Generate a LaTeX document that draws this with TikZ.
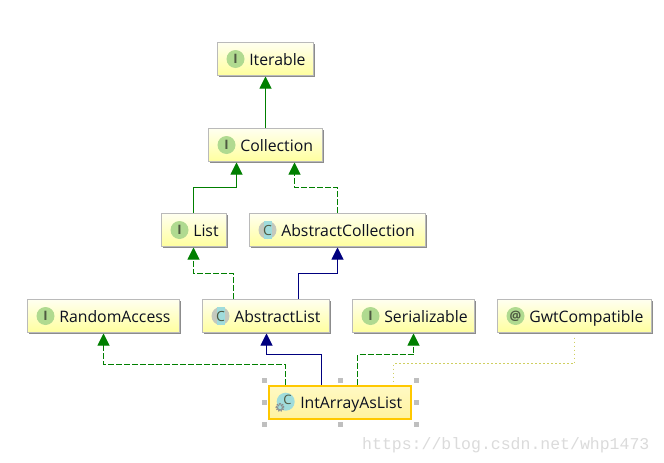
\documentclass[tikz,border=0pt]{standalone}
\usepackage{fontspec}
\setmainfont{Open Sans}
\setmonofont{Liberation Mono}
\usetikzlibrary{arrows.meta,shadows,calc}
\definecolor{gline}{HTML}{007F00}
\definecolor{nline}{HTML}{00007F}
\definecolor{dotline}{HTML}{CFCF60}
\definecolor{ink}{HTML}{0C1020}
\definecolor{ifill}{HTML}{B0DA90}
\definecolor{iink}{HTML}{4F5A42}
\definecolor{cgrey}{HTML}{C4C9BE}
\definecolor{ccyan}{HTML}{A0DCDC}
\definecolor{selfill}{HTML}{FFF9C4}
\definecolor{selfillb}{HTML}{FFF3A0}
\definecolor{selline}{HTML}{FFC800}
\tikzset{
  x=1pt,y=-1pt,
  umlbase/.style={anchor=north west,inner sep=0pt,outer sep=0pt,align=left,text=ink,
    font=\fontsize{15.8}{18}\selectfont,text height=15pt,text depth=3pt},
  umlbox/.style={umlbase,draw=black!27,line width=1pt,top color=yellow!6,bottom color=yellow!38,
    general shadow={shadow xshift=1pt,shadow yshift=-1pt,fill=black!45}},
  selbox/.style={umlbase,draw=selline,line width=2pt,top color=selfill,bottom color=selfillb},
  iconI/.style={circle,fill=ifill,minimum size=18pt,inner sep=0pt,text=iink,font=\rmfamily\bfseries\fontsize{13}{13}\selectfont},
  iconC/.style={circle,fill=cgrey,minimum size=18pt,inner sep=0pt},
  handle/.style={fill=black!25,minimum size=5pt,inner sep=0pt},
  gsolid/.style={draw=gline,line width=1pt,-{Triangle[width=12pt,length=12pt]},shorten <=1pt,shorten >=1pt},
  nsolid/.style={draw=nline,line width=1pt,-{Triangle[width=12pt,length=12pt]},shorten <=1pt,shorten >=1pt},
  gdash/.style={gsolid,dash pattern=on 6pt off 2pt},
  dotdep/.style={draw=dotline,line width=1pt,dash pattern=on 1.5pt off 2.5pt,shorten <=5pt,shorten >=1pt},
}
% name, x1, y1, width, icon letter, text
\newcommand\ibox[6]{%
  \node[umlbox,minimum width=#4pt,text width=#4pt,minimum height=33pt] (#1) at (#2,#3) {\hspace*{31.8pt}#6};
  \node[iconI] (#1i) at ($(#1.west)+(18,0)$) {#5};}
\newcommand\cbox[5]{%
  \node[umlbox,minimum width=#4pt,text width=#4pt,minimum height=33pt] (#1) at (#2,#3) {\hspace*{31.8pt}#5};
  \node[iconC] (#1i) at ($(#1.west)+(18,0)$) {};
  \fill[ccyan] ($(#1i.center)+(-4,-8.9)$) rectangle ($(#1i.center)+(4,8.9)$);
  \node[text=iink,font=\fontsize{14}{14}\selectfont,inner sep=0pt] at (#1i.center) {C};}
\begin{document}
\begin{tikzpicture}
\useasboundingbox (0,0) rectangle (664,463);
\fill[white] (0,0) rectangle (664,463);

\ibox{iter}{217.5}{42.5}{96}{I}{Iterable}
\ibox{coll}{208.5}{128.5}{114}{I}{Collection}
\ibox{list}{161.5}{213.5}{65}{I}{List}
\cbox{acoll}{249.5}{213.5}{176}{AbstractCollection}
\ibox{rand}{27.5}{299.5}{152}{I}{RandomAccess}
\cbox{alist}{202.5}{299.5}{127}{AbstractList}
\ibox{ser}{352.5}{299.5}{122}{I}{Serializable}
\ibox{gwt}{497.5}{299.5}{154}{@}{GwtCompatible}

% selected class
\foreach \n/\hx/\hy in {a/264/380,b/340/380,c/416/380,d/264/402,e/416/402,f/264/424,g/340/424,h/416/424}
  \node[handle] (h\n) at (\hx,\hy) {};
\node[selbox,minimum width=142pt,text width=142pt,minimum height=33pt] (ia) at (268.5,385.5) {\hspace*{31.8pt}IntArrayAsList};
\node[circle,fill=ccyan,minimum size=18pt,inner sep=0pt] (iai) at (285.7,401.7) {};
\node[text=iink,font=\fontsize{13}{13}\selectfont,inner sep=0pt] at (287.5,400) {C};
\node[circle,draw=black!45,line width=2.4pt,dash pattern=on 1.3pt off 0.9pt,fill=ccyan,minimum size=6.5pt,inner sep=0pt] (gear) at (280,407.5) {};

% connectors
\draw[gsolid] ([xshift=57pt]coll.north west) -- ([xshift=48pt]iter.south west);
\draw[gsolid] ([xshift=32pt]list.north west) |- ++(0,-26) -| ([xshift=28pt]coll.south west);
\draw[gdash] ([xshift=88pt]acoll.north west) |- ++(0,-26) -| ([xshift=86pt]coll.south west);
\draw[gdash] ([xshift=31pt]alist.north west) |- ++(0,-26) -| ([xshift=32pt]list.south west);
\draw[nsolid] ([xshift=96pt]alist.north west) |- ++(0,-26) -| ([xshift=88pt]acoll.south west);
\draw[gdash] ([xshift=17pt]ia.north west) |- ++(0,-21) -| ([xshift=76pt]rand.south west);
\draw[nsolid] ([xshift=53pt]ia.north west) |- ++(0,-31) -| ([xshift=64pt]alist.south west);
\draw[gdash] ([xshift=89pt]ia.north west) |- ++(0,-31) -| ([xshift=61pt]ser.south west);
\draw[dotdep] ([xshift=77pt]gwt.south west) |- ++(0,31) -| ([xshift=125pt]ia.north west);

\node[font=\ttfamily\fontsize{16.5}{18}\selectfont,text=black!14,anchor=base west,inner sep=0pt] (wm) at (362,449) {https://blog.csdn.net/whp1473};
\end{tikzpicture}
\end{document}
